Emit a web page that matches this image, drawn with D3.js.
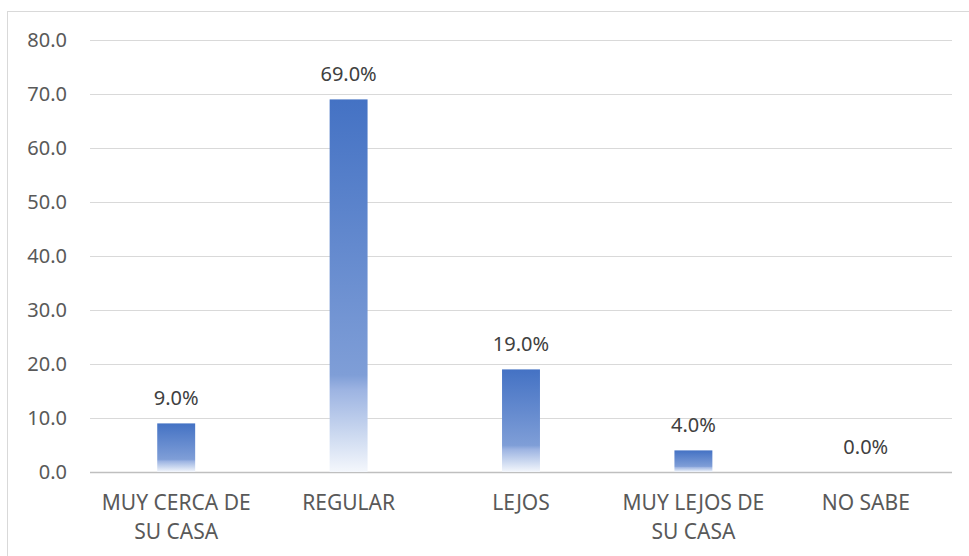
<!DOCTYPE html>
<html>
<head>
<meta charset="utf-8">
<script src="https://cdn.jsdelivr.net/npm/d3@7"></script>
<style>
  html, body { margin: 0; padding: 0; background: #fff; }
  svg { display: block; font-family: "Noto Sans", "Open Sans", sans-serif; }
</style>
</head>
<body>
<svg id="chart" width="969" height="556"></svg>
<script>
const categories = ["MUY CERCA DE SU CASA", "REGULAR", "LEJOS", "MUY LEJOS DE SU CASA", "NO SABE"];
const values = [9.0, 69.0, 19.0, 4.0, 0.0];
const yTicks = [0, 10, 20, 30, 40, 50, 60, 70, 80];

const svg = d3.select("#chart");
const W = 969, H = 556;
const margin = { left: 90, right: 17, top: 40, bottom: 84 };
const x0 = margin.left, x1 = W - margin.right;
const y0 = H - margin.bottom, y1 = margin.top;

// outer chart border
svg.append("rect")
  .attr("x", 7.5).attr("y", 11.5)
  .attr("width", W + 10).attr("height", H + 10)
  .attr("fill", "none").attr("stroke", "#D9D9D9").attr("stroke-width", 1);

const x = d3.scaleBand().domain(categories).range([x0, x1]).paddingInner(0.78).paddingOuter(0.39);
const y = d3.scaleLinear().domain([0, 80]).range([y0, y1]);

// gradient
const defs = svg.append("defs");
const grad = defs.append("linearGradient").attr("id", "barGrad")
  .attr("x1", 0).attr("y1", 0).attr("x2", 0).attr("y2", 1);
[[0, "#4472C4"], [0.74, "#7F9ED7"], [0.78, "#9DB4E2"], [0.9, "#CCD9F0"], [1, "#F4F7FC"]]
  .forEach(([o, c]) => grad.append("stop").attr("offset", o).attr("stop-color", c));

// gridlines
const yAxis = d3.axisLeft(y).tickValues(yTicks).tickSize(-(x1 - x0)).tickPadding(23)
  .tickFormat(d3.format(".1f"));
const gy = svg.append("g").attr("transform", `translate(${x0},0)`).call(yAxis);
gy.select(".domain").remove();
gy.selectAll(".tick line").attr("stroke", d => d === 0 ? "#BFBFBF" : "#D9D9D9").attr("stroke-width", d => d === 0 ? 1.5 : 1);
gy.selectAll(".tick text").attr("fill", "#595959").attr("font-size", "20px")
  .attr("font-family", "'Noto Sans', sans-serif");

// bars
svg.append("g").selectAll("rect").data(values).join("rect")
  .attr("x", (d, i) => x(categories[i]))
  .attr("y", d => y(d))
  .attr("width", x.bandwidth())
  .attr("height", d => y(0) - y(d))
  .attr("fill", "url(#barGrad)");

// value labels
svg.append("g").selectAll("text").data(values).join("text")
  .attr("x", (d, i) => x(categories[i]) + x.bandwidth() / 2)
  .attr("y", d => y(d) - 18)
  .attr("text-anchor", "middle")
  .attr("fill", "#404040")
  .attr("font-size", "20px")
  .text(d => d3.format(".1f")(d) + "%");

// category labels with wrapping
const gx = svg.append("g");
categories.forEach(c => {
  const cx = x(c) + x.bandwidth() / 2;
  const t = gx.append("text").attr("x", cx).attr("y", y0 + 38)
    .attr("text-anchor", "middle").attr("fill", "#595959").attr("font-size", "21px");
  const words = c.split(" ");
  let line = [];
  let tspan = t.append("tspan").attr("x", cx).attr("dy", 0);
  words.forEach(w => {
    line.push(w);
    tspan.text(line.join(" "));
    if (tspan.node().getComputedTextLength() > 165 && line.length > 1) {
      line.pop();
      tspan.text(line.join(" "));
      line = [w];
      tspan = t.append("tspan").attr("x", cx).attr("dy", 29).text(w);
    }
  });
});
</script>
</body>
</html>
